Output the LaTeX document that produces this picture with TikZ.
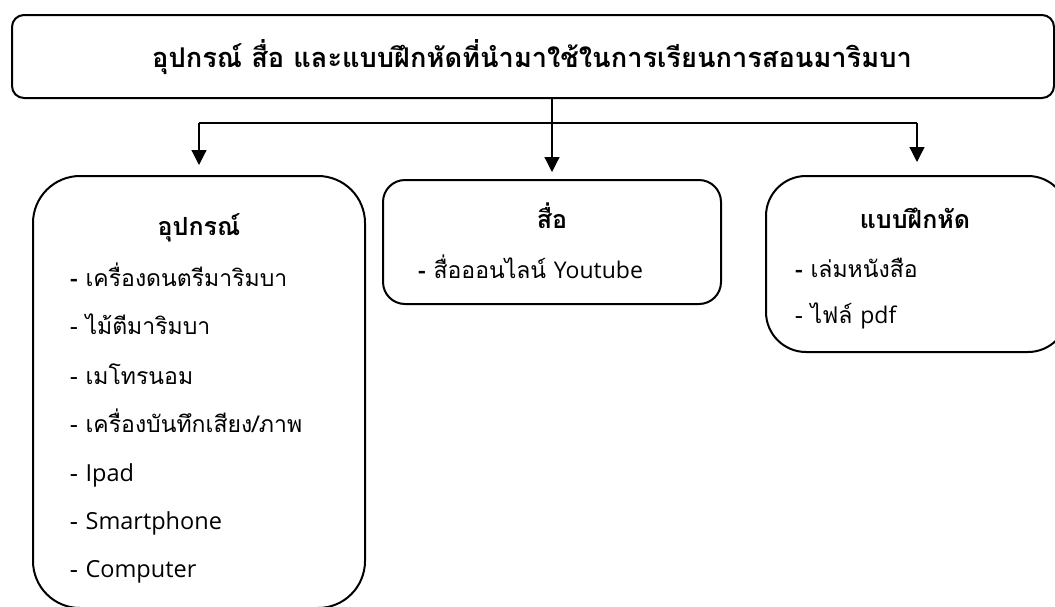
\documentclass[tikz,border=0pt]{standalone}
\usepackage{fontspec}
\setmainfont[Script=Thai]{Loma}
\newfontfamily\lat{Open Sans}
\usetikzlibrary{arrows.meta}
\begin{document}
\begin{tikzpicture}[x=1pt,y=-1pt,
  box/.style={draw, line width=2pt, rounded corners=#1, inner sep=0pt},
  conn/.style={line width=1.2pt},
  arr/.style={line width=1.2pt, -{Triangle[width=15pt,length=15pt]}},
  item/.style={anchor=base west, inner sep=0pt, font=\fontsize{23}{28}\selectfont},
  head/.style={anchor=base, inner sep=0pt, font=\fontsize{25}{30}\selectfont\bfseries},
  ttlstyle/.style={anchor=base, inner sep=0pt, font=\fontsize{27.2}{32}\selectfont\bfseries}]
\useasboundingbox (0,0) rectangle (1055,606);
% boxes
\node[box=12pt, minimum width=1042pt, minimum height=83pt] (title) at (533,56.5) {};
\node[box=47pt, minimum width=332pt, minimum height=432pt] (left) at (199,392) {};
\node[box=22pt, minimum width=338pt, minimum height=124pt] (mid) at (552,242) {};
\node[box=40pt, minimum width=302pt, minimum height=176pt] (right) at (917,264) {};
% title text
\node[ttlstyle] (ttl) at (532,67) {อุปกรณ์ สื่อ และแบบฝึกหัดที่นำมาใช้ในการเรียนการสอนมาริมบา};
% connectors
\coordinate (bus) at (552,123);
\draw[conn] (bus -| left.north) -- (bus -| right.north);
\draw[arr] (bus -| left.north) -- ([yshift=10pt]left.north);
\draw[arr] (title.south -| mid.north) -- ([yshift=7pt]mid.north);
\draw[arr] (bus -| right.north) -- ([yshift=13pt]right.north);
% left box text
\node[head] (lh) at (199,235) {อุปกรณ์};
\node[item] (l1) at (70,286) {{\bfseries -} เครื่องดนตรีมาริมบา};
\node[item] (l2) at (70,334) {- ไม้ตีมาริมบา};
\node[item] (l3) at (70,384) {- เมโทรนอม};
\node[item] (l4) at (70,432) {- เครื่องบันทึกเสียง/ภาพ};
\node[item] (l5) at (70,481) {- {\lat\fontsize{23.5}{28}\selectfont Ipad}};
\node[item] (l6) at (70,529) {- {\lat\fontsize{23.5}{28}\selectfont Smartphone}};
\node[item] (l7) at (70,577) {- {\lat\fontsize{23.5}{28}\selectfont Computer}};
% middle box text
\node[head] (mh) at (552,228) {สื่อ};
\node[item] (m1) at (418,278) {{\bfseries -} สื่อออนไลน์ {\lat Youtube}};
% right box text
\node[head] (rh) at (915,228) {แบบฝึกหัด};
\node[item] (r1) at (795,277) {{\bfseries -} เล่มหนังสือ};
\node[item] (r2) at (795,323) {- ไฟล์ {\lat pdf}};
\end{tikzpicture}
\end{document}
